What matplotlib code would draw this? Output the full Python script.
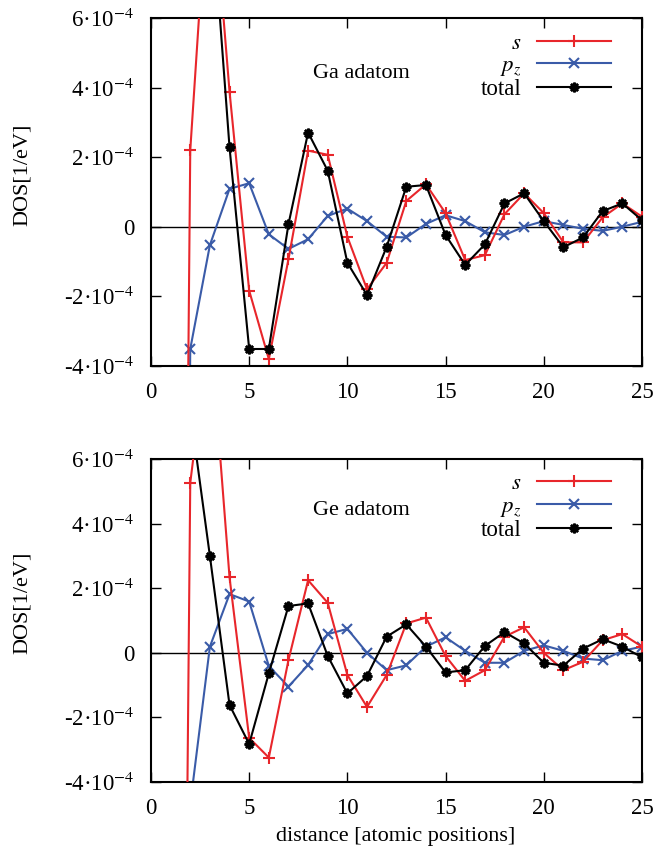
import matplotlib
matplotlib.use("Agg")
import matplotlib.pyplot as plt
from matplotlib.ticker import FuncFormatter, MultipleLocator

plt.rcParams['font.family'] = ['Liberation Serif', 'DejaVu Serif']
plt.rcParams['mathtext.fontset'] = 'stix'

# distance in atomic positions
x = list(range(1, 26))

# Ga adatom, DOS in units of 1e-4 / eV
ga_s = [-60.0, 2.2, 10.8, 3.89, -1.84, -3.81, -0.94, 2.19, 2.07, -0.29, -1.80, -1.04,
        0.74, 1.22, 0.39, -0.96, -0.82, 0.36, 0.96, 0.39, -0.45, -0.45, 0.27, 0.67, 0.29]
ga_pz = [-60.0, -3.52, -0.53, 1.09, 1.25, -0.22, -0.64, -0.36, 0.31, 0.52, 0.16, -0.29,
         -0.31, 0.08, 0.33, 0.16, -0.16, -0.24, 0.0, 0.16, 0.05, -0.06, -0.12, 0.0, 0.14]
ga_tot = [20.0, 15.0, 9.9, 2.28, -3.52, -3.52, 0.07, 2.71, 1.61, -1.04, -1.97, -0.58,
          1.15, 1.20, -0.24, -1.10, -0.51, 0.67, 0.96, 0.16, -0.59, -0.31, 0.45, 0.67, 0.19]

# Ge adatom
ge_s = [-60.0, 5.27, 10.2, 2.34, -2.64, -3.25, -0.23, 2.25, 1.55, -0.69, -1.68, -0.69,
        0.91, 1.09, -0.10, -0.87, -0.54, 0.50, 0.79, 0.0, -0.54, -0.28, 0.39, 0.58, 0.19]
ge_pz = [-30.0, -4.7, 0.19, 1.82, 1.59, -0.41, -1.05, -0.38, 0.58, 0.74, 0.0, -0.54,
         -0.39, 0.19, 0.48, 0.06, -0.31, -0.31, 0.06, 0.23, 0.06, -0.18, -0.23, 0.06, 0.19]
ge_tot = [20.0, 7.5, 3.0, -1.62, -2.83, -0.64, 1.45, 1.53, -0.10, -1.26, -0.72, 0.50,
          0.88, 0.19, -0.61, -0.54, 0.21, 0.64, 0.29, -0.31, -0.40, 0.13, 0.42, 0.19, -0.14]

panels = [("Ga adatom", ga_s, ga_pz, ga_tot), ("Ge adatom", ge_s, ge_pz, ge_tot)]

RED = '#e8262b'
BLUE = '#3a5ba8'
STAR = (8, 2, 0)


def sci(v, pos):
    n = int(round(v))
    if n == 0:
        return "0"
    return "%d\u00b710$^{-4}$" % n


fig = plt.figure(figsize=(6.55, 8.6), dpi=100)
rects = [[0.2305, 0.5748, 0.7496, 0.404], [0.2305, 0.0910, 0.7496, 0.3749]]

for rect, (title, s, pz, tot) in zip(rects, panels):
    ax = fig.add_axes(rect)
    sc = lambda a: [v * 1e-4 for v in a]
    ax.axhline(0, color='black', lw=1.0, zorder=1)
    ax.plot(x, sc(s), color=RED, lw=1.5, marker='+', ms=8, mew=1.5, label='$s$', zorder=3)
    ax.plot(x, sc(pz), color=BLUE, lw=1.5, marker='x', ms=7, mew=1.5, label='$p_z$', zorder=2)
    ax.plot(x, sc(tot), color='black', lw=1.5, marker=STAR, ms=7, mew=1.8, label='total', zorder=4)

    ax.set_xlim(0, 25)
    ax.set_ylim(-4e-4, 6e-4)
    ax.xaxis.set_major_locator(MultipleLocator(5))
    ax.yaxis.set_major_locator(MultipleLocator(2e-4))
    ax.yaxis.set_major_formatter(FuncFormatter(lambda v, p: sci(v * 1e4, p)))
    ax.tick_params(direction='in', length=7, width=1.0, top=True, right=True,
                   labelsize=16.5, pad=12)
    for sp in ax.spines.values():
        sp.set_linewidth(1.5)

    ax.text(10.7, 4.42e-4, title, fontsize=16, ha='center', va='center')

    leg = ax.legend(loc='upper right', bbox_to_anchor=(0.955, 0.985), frameon=False,
                    fontsize=16.5, markerfirst=False, handlelength=3.2,
                    labelspacing=0.05, handletextpad=0.7, borderaxespad=0)
    for t in leg.get_texts():
        t.set_ha('right')

fig.text(22 / 655, 1 - 175 / 860, "DOS[1/eV]", rotation=90, fontsize=16,
         ha='center', va='center')
fig.text(22 / 655, 1 - 603 / 860, "DOS[1/eV]", rotation=90, fontsize=16,
         ha='center', va='center')
fig.text(396 / 655, 1 - 836 / 860, "distance [atomic positions]", fontsize=16,
         ha='center', va='center')

fig.savefig("out.png", dpi=100)
